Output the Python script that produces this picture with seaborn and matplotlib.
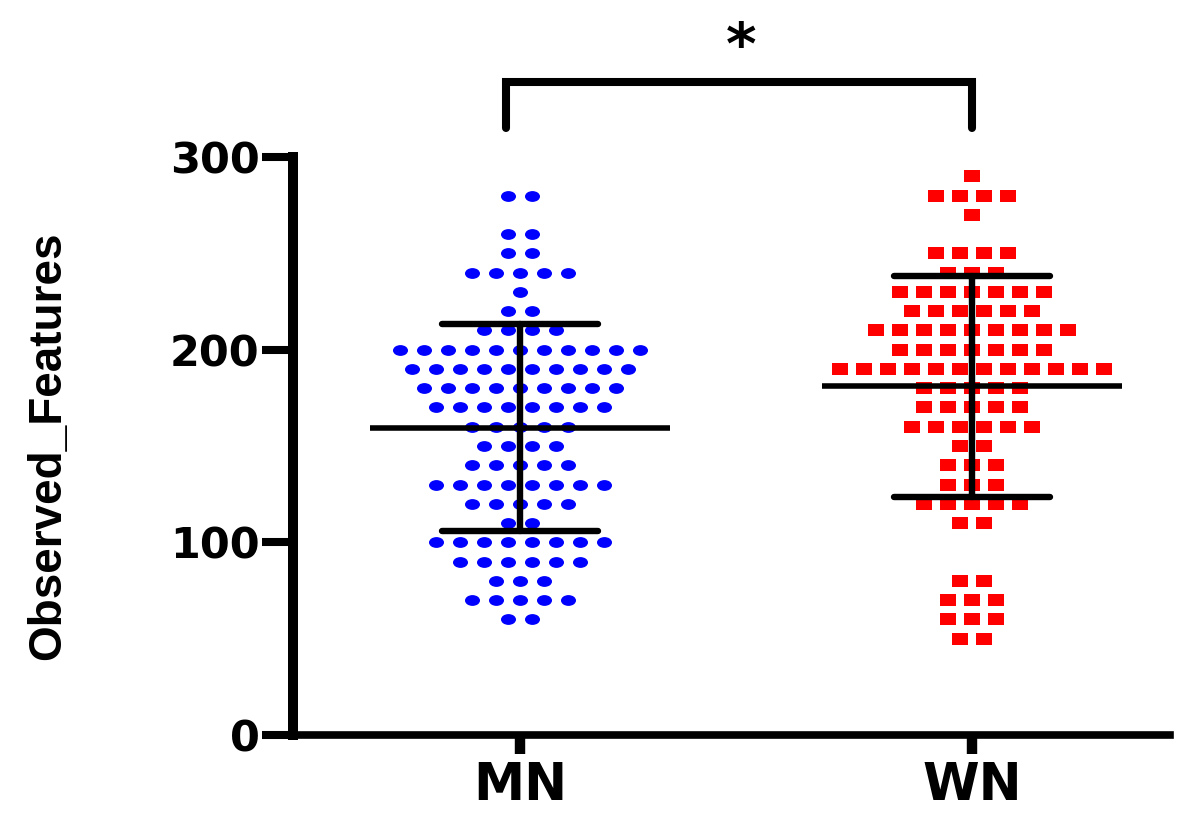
import numpy as np
import pandas as pd
import matplotlib
matplotlib.use("Agg")
import matplotlib.pyplot as plt
import seaborn as sns
from matplotlib.path import Path
from matplotlib.transforms import Affine2D
from matplotlib import font_manager as fm

# ---------------- data ----------------
groups = ["MN", "WN"]
mn_levels = [280, 260, 250, 240, 230, 220, 210, 200, 190, 180, 170,
             160, 150, 140, 130, 120, 110, 100, 90, 80, 70, 60]
mn_counts = [2, 2, 2, 5, 1, 2, 4, 11, 10, 9, 8,
             5, 4, 5, 8, 5, 2, 8, 6, 3, 5, 2]
wn_levels = [290, 280, 270, 250, 240, 230, 220, 210, 200, 190, 180,
             170, 160, 150, 140, 130, 120, 110, 80, 70, 60, 50]
wn_counts = [1, 4, 1, 4, 3, 7, 6, 9, 7, 12, 5,
             5, 6, 2, 3, 3, 5, 2, 2, 3, 3, 2]
y_ticks = [0, 100, 200, 300]
y_label = "Observed_Features"
sig_label = "*"
colors = {"MN": "#0000FF", "WN": "#FF0000"}

# ---------------- build long table with dot-plot offsets ----------------
DOT_STEP = 0.053  # horizontal spacing between equal values (category units)
rows = []
for gi, (g, lv, ct) in enumerate([("MN", mn_levels, mn_counts),
                                   ("WN", wn_levels, wn_counts)]):
    for level, n in zip(lv, ct):
        offs = (np.arange(n) - (n - 1) / 2) * DOT_STEP
        for o in offs:
            rows.append({"group": g, "pos": gi, "x": gi + o, "value": level})
df = pd.DataFrame(rows)

# ---------------- style ----------------
sns.set_style("white")
plt.rcParams["font.family"] = ["DejaVu Sans"]
plt.rcParams["text.color"] = "black"
plt.rcParams["axes.labelcolor"] = "black"

fig = plt.figure(figsize=(11.84, 8.16), dpi=100)
ax = fig.add_axes([293 / 1184, 1 - 735 / 816, (1170 - 293) / 1184, (735 - 157) / 816])

ellipse = Path.unit_circle().transformed(Affine2D().scale(1.0, 0.72))
rect = Path([(-1, -0.75), (1, -0.75), (1, 0.75), (-1, 0.75), (-1, -0.75)],
            [Path.MOVETO, Path.LINETO, Path.LINETO, Path.LINETO, Path.CLOSEPOLY])

sns.scatterplot(data=df[df.group == "MN"], x="x", y="value", ax=ax,
                marker=ellipse, s=117, color=colors["MN"], linewidth=0,
                legend=False)
sns.scatterplot(data=df[df.group == "WN"], x="x", y="value", ax=ax,
                marker=rect, s=136, color=colors["WN"], linewidth=0,
                legend=False)

# mean +/- SD
sns.pointplot(data=df, x="pos", y="value", native_scale=True, orient="x",
              errorbar="sd", capsize=0.345, color="black",
              marker="_", markersize=216, markeredgewidth=4,
              linestyle="none", err_kws={"linewidth": 4.6}, ax=ax)

ax.set_xlim(-0.502, 1.438)
ax.set_ylim(0, 300)
ax.set_xticks([0, 1])
ax.set_xticklabels(groups, fontweight="bold")
ax.set_yticks(y_ticks)
ax.set_yticklabels([str(t) for t in y_ticks], fontweight="bold")
ax.set_xlabel("")

for s in ["top", "right"]:
    ax.spines[s].set_visible(False)
ax.spines["left"].set_linewidth(7.2)
ax.spines["left"].set_bounds(0, 300)
ax.spines["bottom"].set_linewidth(5.5)
ax.spines["left"].set_color("black")
ax.spines["bottom"].set_color("black")

ax.tick_params(axis="y", direction="out", length=22, width=5.8, pad=2,
               labelsize=31, colors="black", left=True)
ax.tick_params(axis="x", direction="out", length=14, width=7.5, pad=5,
               labelsize=37, colors="black", bottom=True)

# y label
names = {f.name for f in fm.fontManager.ttflist}
if "Liberation Sans Narrow" in names:
    ax.set_ylabel(y_label, fontsize=40, fontweight="bold", color="black",
                  family=["Liberation Sans Narrow", "DejaVu Sans"])
else:
    ax.set_ylabel(y_label, fontsize=33, fontweight="bold", color="black",
                  family=["Liberation Sans", "DejaVu Sans"])
ax.yaxis.set_label_coords(-0.254, 0.5)

# significance bracket
ax.plot([-0.03, -0.03, 1.0, 1.0], [315, 339, 339, 315], color="black",
        linewidth=5.8, clip_on=False, solid_capstyle="round",
        solid_joinstyle="miter")
ax.text(0.49, 357, sig_label, ha="center", va="center", fontsize=42,
        fontweight="bold", color="black", clip_on=False)

fig.savefig("out.png", dpi=100, facecolor="white")
